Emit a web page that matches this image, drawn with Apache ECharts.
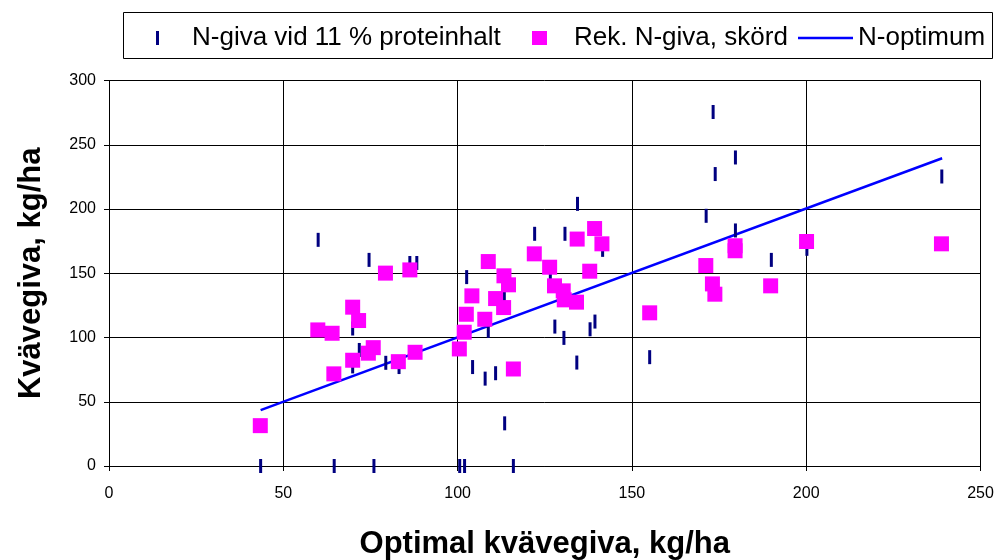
<!DOCTYPE html>
<html>
<head>
<meta charset="utf-8">
<script src="https://cdn.jsdelivr.net/npm/echarts@6/dist/echarts.min.js"></script>
<style>
  html, body { margin: 0; padding: 0; background: #fff; }
  #chart { width: 997px; height: 560px; }
</style>
</head>
<body>
<div id="chart"></div>
<script>
// Rek. N-giva, skörd (magenta squares)
const optX = [43.4, 59.9, 64.0, 64.5, 69.9, 69.9, 71.6, 74.4, 75.8, 79.3, 83.0, 86.3, 87.8,
  100.5, 101.9, 102.5, 104.1, 107.8, 108.8, 110.9, 113.2, 113.3, 114.6, 116.0,
  122.0, 126.4, 127.8, 130.3, 130.6, 134.1, 134.3, 137.9, 139.3, 141.4, 155.1,
  171.2, 173.1, 173.8, 179.6, 179.6, 189.8, 200.1, 238.8];
const rekNgiva = [31.4, 105.9, 103.3, 71.7, 123.6, 82.3, 113.2, 87.8, 92.1, 150.1, 81.2, 152.6, 88.5,
  91.1, 104.1, 118.1, 132.4, 114.2, 159.1, 130.3, 123.3, 148, 141, 75.5,
  165.1, 154.7, 140.2, 136.3, 129.3, 127.5, 176.6, 151.6, 184.8, 172.9, 119.2,
  156, 141.7, 133.7, 171.4, 167.5, 140.2, 174.7, 172.9];

// N-giva vid 11 % proteinhalt (navy dashes)
const tickX = [43.5, 60.0, 64.6, 69.9, 69.9, 71.8, 74.6, 76.0, 79.4, 83.2, 86.3, 88.3,
  100.6, 102.0, 102.6, 104.3, 107.9, 108.8, 110.9, 113.4, 113.5, 116.0,
  122.1, 126.6, 127.9, 130.5, 130.8, 134.2, 134.4, 138.0, 139.4, 141.6, 155.1,
  171.3, 173.3, 173.9, 179.7, 179.7, 190.0, 200.2, 238.9];
const ngiva11 = [0, 176, 0, 107, 77.5, 90.3, 160.4, 0, 80.3, 77, 158, 158,
  0, 0, 147, 77, 68, 105.1, 72.2, 131.9, 33.2, 0,
  180.7, 147, 108.5, 99.7, 180.7, 80.5, 204, 106.4, 112.4, 168.2, 84.7,
  194.7, 275.5, 227.2, 240.1, 183.3, 160.4, 169, 225.3];

// N-optimum line
const optLineX = [43.5, 239];
const optLineY = [43.5, 239.5];

const pairs = (xs, ys) => xs.map((x, i) => [x, ys[i]]);
const font = 'Arial, "Liberation Sans", sans-serif';
const legendText = { fontSize: 26, color: '#000', fontFamily: font };
const titleText = { fontSize: 31, fontWeight: 'bold', color: '#000', fontFamily: font };

const chart = echarts.init(document.getElementById('chart'));
chart.setOption({
  animation: false,
  backgroundColor: '#fff',
  textStyle: { fontFamily: font },
  grid: { left: 109, right: 16.5, top: 80.5, bottom: 94, outerBoundsMode: 'none', containLabel: false },
  graphic: [{
    type: 'rect',
    shape: { x: 123.5, y: 12.5, width: 869, height: 46 },
    style: { fill: 'none', stroke: '#000', lineWidth: 1 },
    z: -1
  }],
  legend: [
    {
      data: [{ name: 'N-giva vid 11 % proteinhalt', icon: 'rect' }],
      left: 156, top: 25, padding: 0, itemWidth: 3, itemHeight: 14,
      textStyle: Object.assign({ padding: [0, 0, 0, 28] }, legendText)
    },
    {
      data: [{ name: 'Rek. N-giva, skörd', icon: 'rect' }],
      left: 532, top: 25, padding: 0, itemWidth: 15, itemHeight: 14,
      textStyle: Object.assign({ padding: [0, 0, 0, 22] }, legendText)
    },
    {
      data: [{ name: 'N-optimum', icon: 'rect' }],
      left: 798, top: 25, padding: 0, itemWidth: 55, itemHeight: 2.5,
      textStyle: legendText
    }
  ],
  xAxis: {
    type: 'value', min: 0, max: 250, interval: 50,
    name: 'Optimal kvävegiva, kg/ha', nameLocation: 'middle', nameGap: 63,
    nameTextStyle: titleText,
    axisLine: { show: true, lineStyle: { color: '#000' } },
    axisTick: { show: true, length: 5, lineStyle: { color: '#000' } },
    axisLabel: { fontSize: 16, color: '#000', margin: 20, fontFamily: font },
    splitLine: { show: true, lineStyle: { color: '#000', width: 1 } }
  },
  yAxis: {
    type: 'value', min: 0, max: 300, interval: 50,
    name: 'Kvävegiva, kg/ha', nameLocation: 'middle', nameGap: 62,
    nameTextStyle: titleText,
    axisLine: { show: true, lineStyle: { color: '#000' } },
    axisTick: { show: true, length: 5, lineStyle: { color: '#000' } },
    axisLabel: { fontSize: 16, color: '#000', margin: 13, fontFamily: font },
    splitLine: { show: true, lineStyle: { color: '#000', width: 1 } }
  },
  series: [
    {
      name: 'N-optimum',
      type: 'line',
      data: pairs(optLineX, optLineY),
      symbol: 'none',
      lineStyle: { color: '#0000ff', width: 2.5 },
      itemStyle: { color: '#0000ff' },
      z: 2
    },
    {
      name: 'N-giva vid 11 % proteinhalt',
      type: 'scatter',
      data: pairs(tickX, ngiva11),
      symbol: 'rect',
      symbolSize: [3, 14],
      itemStyle: { color: '#000080', opacity: 1 },
      z: 3
    },
    {
      name: 'Rek. N-giva, skörd',
      type: 'scatter',
      data: pairs(optX, rekNgiva),
      symbol: 'rect',
      symbolSize: 15,
      itemStyle: { color: '#ff00ff', opacity: 1 },
      z: 4
    }
  ]
});
</script>
</body>
</html>
